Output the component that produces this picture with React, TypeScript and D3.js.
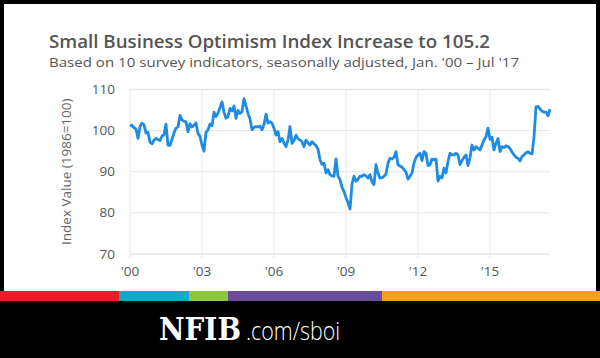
import React from 'react';
import * as d3 from 'd3';

// monthly index values, Jan 2000 .. Jul 2017
const y2000 = [101.1, 101.3, 100.7, 100.4, 98.1, 101.0, 101.8, 101.4, 99.4, 99.6, 97.2, 96.8];
const y2001 = [97.7, 98.1, 97.8, 97.6, 98.7, 99.0, 101.6, 96.5, 96.4, 97.9, 99.4, 100.6];
const y2002 = [100.9, 103.7, 102.6, 102.3, 102.1, 99.7, 101.7, 100.9, 101.3, 101.9, 99.3, 98.6];
const y2003 = [96.5, 95.0, 99.6, 100.2, 101.6, 101.2, 104.5, 103.4, 104.2, 105.6, 107.0, 104.5];
const y2004 = [103.0, 103.4, 105.4, 104.8, 106.0, 103.0, 104.9, 104.2, 104.6, 107.8, 106.0, 104.2];
const y2005 = [102.8, 100.2, 100.8, 101.0, 100.9, 101.1, 100.2, 101.5, 104.0, 101.8, 102.2, 101.8];
const y2006 = [100.6, 98.9, 99.8, 97.3, 98.1, 97.0, 96.1, 97.7, 101.0, 96.9, 97.6, 98.9];
const y2007 = [98.0, 97.7, 97.3, 96.1, 97.7, 97.0, 96.5, 97.3, 96.8, 96.3, 95.5, 92.9];
const y2008 = [91.8, 92.1, 89.7, 90.5, 89.3, 89.0, 88.9, 93.1, 88.9, 88.1, 86.2, 85.2];
const y2009 = [83.7, 82.5, 80.9, 87.0, 88.9, 87.7, 88.2, 88.9, 88.9, 89.3, 89.0, 88.5];
const y2010 = [89.3, 87.5, 86.9, 91.7, 89.7, 88.5, 88.5, 88.9, 89.5, 92.1, 93.3, 93.1];
const y2011 = [93.5, 94.9, 91.7, 91.4, 91.1, 90.5, 89.9, 88.2, 88.9, 89.7, 92.1, 93.5];
const y2012 = [94.1, 94.5, 92.7, 94.9, 94.5, 91.5, 91.7, 93.1, 92.9, 93.1, 87.7, 88.9];
const y2013 = [88.5, 90.9, 89.7, 92.5, 94.5, 94.1, 94.1, 94.5, 94.1, 91.7, 92.7, 93.5];
const y2014 = [94.1, 91.5, 93.4, 96.5, 95.3, 96.1, 95.7, 95.3, 96.5, 97.7, 98.5, 100.6];
const y2015 = [97.9, 98.4, 95.3, 96.9, 98.1, 94.9, 96.1, 95.9, 96.3, 96.1, 95.7, 94.8];
const y2016 = [94.1, 93.5, 93.3, 92.6, 93.7, 94.1, 94.6, 94.9, 94.5, 94.3, 98.4, 105.8];
const y2017 = [105.9, 105.3, 104.7, 104.5, 104.5, 103.6, 105.2];

const values = [
  ...y2000, ...y2001, ...y2002, ...y2003, ...y2004, ...y2005, ...y2006, ...y2007, ...y2008,
  ...y2009, ...y2010, ...y2011, ...y2012, ...y2013, ...y2014, ...y2015, ...y2016, ...y2017,
];

const xTickLabels = ["'00", "'03", "'06", "'09", "'12", "'15"];
const yTicks = [70, 80, 90, 100, 110];

const stripeColors = ['#ec1c24', '#13a9c8', '#8cc63f', '#6a4b9c', '#f6a11b'];
const stripeEdges = [0, 119, 189, 228, 382, 600];

export default function App() {
  const x = d3.scaleLinear().domain([0, values.length - 1]).range([130, 550]);
  const y = d3.scaleLinear().domain([70, 110]).range([254, 89.5]);

  const line = d3.line<number>()
    .x((d, i) => x(i))
    .y(d => y(d));

  const gray = '#555';

  return (
    <svg width={600} height={358} style={{ position: 'absolute', left: 0, top: 0 }}
      fontFamily="'Open Sans', sans-serif">
      <rect x={0} y={0} width={600} height={358} fill="#000" />
      <rect x={4} y={4} width={592} height={288} fill="#fff" />

      <text x={49} y={48} fontSize={18.5} fontWeight={600} fill={gray}
        textLength={441} lengthAdjust="spacingAndGlyphs">
        Small Business Optimism Index Increase to 105.2
      </text>
      <text x={49} y={67} fontSize={13.5} fill={gray}
        textLength={470} lengthAdjust="spacingAndGlyphs">
        Based on 10 survey indicators, seasonally adjusted, Jan. '00 – Jul '17
      </text>

      {/* grid */}
      {yTicks.map(t => (
        <g key={t}>
          <line x1={130} x2={550} y1={y(t)} y2={y(t)} stroke="#e6e6e6" strokeWidth={t === 70 || t === 110 ? 1.5 : 1} />
          <text x={115} y={y(t) + 4.5} textAnchor="end" fontSize={13.5} fill={gray}>{t}</text>
        </g>
      ))}
      {xTickLabels.map((l, i) => (
        <g key={l}>
          <line x1={x(i * 36)} x2={x(i * 36)} y1={y(110)} y2={y(70) + 4} stroke="#e6e6e6" strokeWidth={1} />
          <text x={x(i * 36)} y={276} textAnchor="middle" fontSize={13.5} fill={gray}>{l}</text>
        </g>
      ))}

      <text transform={`translate(71,${(y(70) + y(110)) / 2}) rotate(-90)`} textAnchor="middle"
        fontSize={13.5} fill="#666">Index Value (1986=100)</text>

      <path d={line(values) ?? ''} fill="none" stroke="#1f8ce3" strokeWidth={2.8} strokeLinejoin="round" />

      {/* colour stripe */}
      {stripeColors.map((c, i) => (
        <rect key={c} x={stripeEdges[i]} y={291} width={stripeEdges[i + 1] - stripeEdges[i]} height={10} fill={c} />
      ))}

      <text x={159} y={340} fontSize={32} fontWeight={900} fill="#fff" fontFamily="'DejaVu Serif', serif"
        textLength={82} lengthAdjust="spacingAndGlyphs">NFIB</text>
      <text x={246} y={340} fontSize={26} fontWeight={300} fill="#fff" fontFamily="'Open Sans', sans-serif"
        textLength={94} lengthAdjust="spacingAndGlyphs">.com/sboi</text>
    </svg>
  );
}
